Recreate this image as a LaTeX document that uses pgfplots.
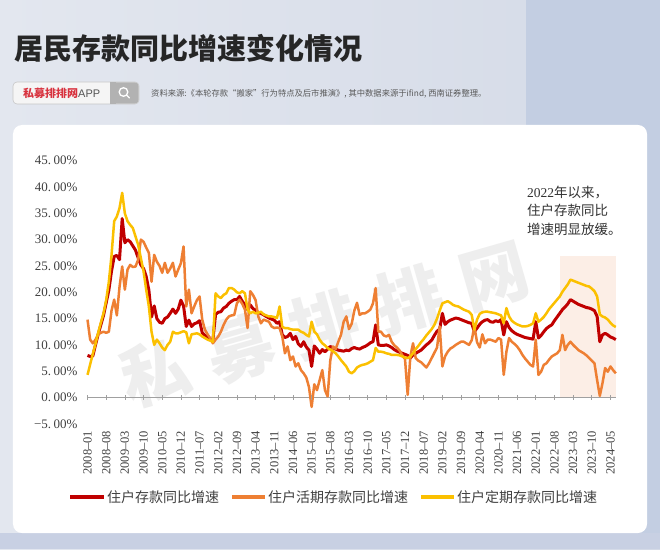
\documentclass[border=0pt]{standalone}
\usepackage{pgfplots}
\pgfplotsset{compat=1.18}
\usetikzlibrary{backgrounds}
\usepackage{fontspec}
\setmainfont{Liberation Serif}
\newfontfamily\cjk{Noto Sans CJK SC}
\newfontfamily\lsans{Liberation Sans}
\definecolor{cred}{HTML}{C00000}
\definecolor{corange}{HTML}{EE7F33}
\definecolor{cyellow}{HTML}{FBC000}
\definecolor{labgray}{HTML}{404040}
\definecolor{axgray}{HTML}{A0A0A0}
\definecolor{peachfill}{HTML}{FCEEE6}
\definecolor{bgA}{HTML}{E3E7EF}
\definecolor{bgB}{HTML}{D4DAE7}
\definecolor{bgband}{HTML}{C3CEE2}
\definecolor{bgbot}{HTML}{C8D0E3}
\definecolor{wm}{HTML}{EEEEEE}
\begin{document}
\begin{tikzpicture}
\begin{axis}[
  scale only axis,
  width=528.3pt, height=263.1pt,
  xmin=0, xmax=198, ymin=-5, ymax=45,
  axis line style={draw=none},
  tick style={draw=none},
  clip=false,
  xtick={0,7,...,196},
  xticklabels={2008--01,2008--08,2009--03,2009--10,2010--05,2010--12,2011--07,2012--02,2012--09,2013--04,2013--11,2014--06,2015--01,2015--08,2016--03,2016--10,2017--05,2017--12,2018--07,2019--02,2019--09,2020--04,2020--11,2021--06,2022--01,2022--08,2023--03,2023--10,2024--05},
  xticklabel style={rotate=90, anchor=east, font=\fontsize{12.5}{12.5}\selectfont, text=labgray},
  xticklabel shift=3.5pt,
  ytick={-5,0,5,10,15,20,25,30,35,40,45},
  yticklabels={−5.\hspace{2.5pt}00\%,0.\hspace{2.5pt}00\%,5.\hspace{2.5pt}00\%,10.\hspace{2.5pt}00\%,15.\hspace{2.5pt}00\%,20.\hspace{2.5pt}00\%,25.\hspace{2.5pt}00\%,30.\hspace{2.5pt}00\%,35.\hspace{2.5pt}00\%,40.\hspace{2.5pt}00\%,45.\hspace{2.5pt}00\%},
  yticklabel style={font=\fontsize{13}{13}\selectfont, text=labgray, xshift=-6.5pt},
]
\coordinate (O) at (axis cs:0,0);
\fill[peachfill] (axis cs:177,0) rectangle (axis cs:198.2,26.8);
\draw[axgray, line width=0.8pt] (axis cs:0,0) -- (axis cs:198,0);
\addplot[only marks, mark=|, mark size=2.5pt, color=axgray, mark options={line width=0.7pt}] coordinates {(0,0)(7,0)(14,0)(21,0)(28,0)(35,0)(42,0)(49,0)(56,0)(63,0)(70,0)(77,0)(84,0)(91,0)(98,0)(105,0)(112,0)(119,0)(126,0)(133,0)(140,0)(147,0)(154,0)(161,0)(168,0)(175,0)(182,0)(189,0)(196,0)};
% red: total household deposits
\addplot[cred, line width=3pt, line join=round, mark=none] coordinates {(0,8.0)(1,7.8)(2,7.9)(3,10.0)(4,12.0)(5,13.8)(6,15.6)(7,18.0)(8,20.4)(9,24.0)(10,26.8)(11,27.0)(12,26.2)(13,34.0)(14,29.4)(15,30.0)(16,29.6)(17,28.8)(18,28.0)(19,26.5)(20,25.2)(21,24.5)(22,23.0)(23,20.4)(24,15.3)(25,17.4)(26,15.0)(27,14.3)(28,14.1)(29,15.0)(30,15.3)(31,16.0)(32,16.8)(33,16.0)(34,16.8)(35,18.5)(36,17.4)(37,13.5)(38,14.7)(39,13.5)(40,14.0)(41,14.2)(42,14.6)(43,12.3)(44,11.8)(45,11.5)(46,11.0)(47,11.0)(48,15.8)(49,16.2)(50,16.3)(51,17.0)(52,17.3)(53,17.9)(54,18.3)(55,18.6)(56,18.6)(57,19.2)(58,18.3)(59,17.6)(60,16.7)(61,17.6)(62,16.9)(63,16.6)(64,16.1)(65,16.0)(66,15.7)(67,15.4)(68,15.1)(69,14.9)(70,14.7)(71,14.1)(72,14.4)(73,11.9)(74,11.4)(75,11.6)(76,12.2)(77,11.0)(78,11.6)(79,10.2)(80,9.7)(81,10.6)(82,9.6)(83,9.0)(84,5.9)(85,9.8)(86,9.2)(87,8.4)(88,9.1)(89,8.7)(90,9.2)(91,9.7)(92,9.4)(93,9.2)(94,9.0)(95,8.9)(96,8.8)(97,9.0)(98,8.9)(99,9.3)(100,9.5)(101,9.3)(102,9.2)(103,9.5)(104,9.7)(105,10.0)(106,10.4)(107,10.6)(108,13.8)(109,10.0)(110,9.9)(111,9.9)(112,10.0)(113,9.8)(114,9.5)(115,9.1)(116,8.8)(117,8.6)(118,8.4)(119,8.2)(120,8.0)(121,7.5)(122,8.1)(123,8.4)(124,8.7)(125,9.0)(126,9.5)(127,10.0)(128,10.4)(129,10.9)(130,11.8)(131,12.6)(132,13.0)(133,16.0)(134,13.9)(135,14.4)(136,14.7)(137,14.9)(138,15.1)(139,15.0)(140,14.8)(141,14.6)(142,14.4)(143,14.2)(144,14.1)(145,12.5)(146,13.2)(147,13.9)(148,14.4)(149,14.7)(150,14.8)(151,14.4)(152,14.3)(153,14.6)(154,14.4)(155,14.8)(156,11.9)(157,14.4)(158,13.3)(159,12.7)(160,12.3)(161,12.0)(162,11.8)(163,11.6)(164,11.4)(165,11.3)(166,11.2)(167,11.1)(168,14.4)(169,11.3)(170,11.8)(171,12.5)(172,13.1)(173,13.5)(174,13.8)(175,14.6)(176,15.3)(177,16.0)(178,16.7)(179,17.2)(180,17.8)(181,18.6)(182,18.3)(183,18.0)(184,17.7)(185,17.5)(186,17.3)(187,17.1)(188,17.0)(189,16.8)(190,16.5)(191,15.4)(192,10.6)(193,11.9)(194,12.2)(195,11.9)(196,11.5)(197,11.3)(198,11.0)};
% orange: demand deposits
\addplot[corange, line width=2.5pt, line join=round, mark=none] coordinates {(0,14.8)(1,11.0)(2,10.3)(3,11.0)(4,12.0)(5,12.3)(6,12.5)(7,12.3)(8,12.5)(9,16.5)(10,18.6)(11,15.6)(12,21.0)(13,24.9)(14,20.5)(15,24.3)(16,25.2)(17,24.8)(18,24.9)(19,26.2)(20,30.0)(21,29.6)(22,28.5)(23,27.5)(24,22.0)(25,27.1)(26,25.8)(27,25.0)(28,23.7)(29,25.6)(30,23.7)(31,24.5)(32,25.6)(33,23.0)(34,24.3)(35,25.5)(36,28.7)(37,17.3)(38,20.5)(39,16.0)(40,17.3)(41,18.5)(42,19.2)(43,14.8)(44,12.9)(45,12.0)(46,11.3)(47,10.3)(48,11.0)(49,11.6)(50,12.5)(51,13.8)(52,14.8)(53,15.4)(54,15.6)(55,15.7)(56,17.9)(57,18.6)(58,17.8)(59,16.7)(60,13.2)(61,20.2)(62,19.5)(63,18.5)(64,15.4)(65,14.1)(66,14.8)(67,14.6)(68,14.4)(69,13.5)(70,13.2)(71,13.3)(72,13.2)(73,11.6)(74,8.4)(75,9.7)(76,7.1)(77,7.8)(78,5.9)(79,6.5)(80,5.2)(81,4.6)(82,3.8)(83,2.0)(84,-1.8)(85,2.5)(86,1.4)(87,3.3)(88,5.2)(89,1.4)(90,0.2)(91,7.1)(92,9.7)(93,9.2)(94,10.6)(95,11.9)(96,14.4)(97,15.4)(98,13.0)(99,14.0)(100,16.5)(101,18.0)(102,15.7)(103,16.0)(104,16.0)(105,16.3)(106,16.7)(107,17.9)(108,20.8)(109,12.5)(110,12.5)(111,11.8)(112,11.6)(113,11.9)(114,10.6)(115,9.9)(116,9.5)(117,8.9)(118,8.0)(119,7.3)(120,0.5)(121,7.8)(122,10.3)(123,7.5)(124,7.0)(125,6.7)(126,6.2)(127,5.7)(128,6.5)(129,7.5)(130,8.5)(131,9.5)(132,13.5)(133,5.9)(134,7.8)(135,8.7)(136,9.3)(137,9.6)(138,10.0)(139,10.3)(140,10.6)(141,10.6)(142,10.3)(143,10.0)(144,10.9)(145,13.5)(146,10.5)(147,9.5)(148,12.0)(149,10.3)(150,11.0)(151,11.0)(152,10.8)(153,10.6)(154,11.3)(155,11.0)(156,4.3)(157,8.7)(158,11.3)(159,10.6)(160,10.2)(161,9.7)(162,9.0)(163,8.1)(164,7.4)(165,6.8)(166,6.2)(167,5.9)(168,11.0)(169,4.3)(170,4.9)(171,6.2)(172,6.5)(173,7.2)(174,7.8)(175,8.1)(176,8.4)(177,9.0)(178,11.9)(179,9.0)(180,10.0)(181,10.6)(182,10.0)(183,9.5)(184,9.0)(185,8.7)(186,8.4)(187,8.0)(188,7.5)(189,7.0)(190,6.5)(191,3.3)(192,0.3)(193,2.7)(194,5.6)(195,4.9)(196,5.9)(197,5.2)(198,4.6)};
% yellow: time deposits
\addplot[cyellow, line width=2.5pt, line join=round, mark=none] coordinates {(0,4.3)(1,6.3)(2,8.3)(3,10.2)(4,12.3)(5,14.2)(6,16.0)(7,18.5)(8,22.0)(9,27.0)(10,33.5)(11,34.4)(12,36.0)(13,38.9)(14,35.0)(15,33.5)(16,32.8)(17,32.2)(18,30.6)(19,29.0)(20,26.5)(21,24.0)(22,20.5)(23,17.3)(24,12.5)(25,10.0)(26,11.0)(27,10.3)(28,9.5)(29,9.0)(30,10.0)(31,10.6)(32,12.5)(33,12.2)(34,12.2)(35,12.4)(36,12.6)(37,12.4)(38,10.3)(39,12.0)(40,12.1)(41,12.2)(42,12.0)(43,11.6)(44,11.3)(45,11.0)(46,10.8)(47,10.6)(48,19.8)(49,19.2)(50,18.9)(51,19.5)(52,19.8)(53,20.8)(54,20.8)(55,20.5)(56,20.0)(57,19.8)(58,20.2)(59,19.8)(60,16.7)(61,16.0)(62,16.3)(63,16.0)(64,16.1)(65,16.3)(66,15.8)(67,15.6)(68,15.4)(69,15.4)(70,15.3)(71,15.1)(72,17.3)(73,13.4)(74,13.2)(75,13.2)(76,13.0)(77,12.9)(78,12.9)(79,12.9)(80,12.5)(81,12.3)(82,11.9)(83,11.6)(84,14.4)(85,12.5)(86,12.0)(87,11.0)(88,10.3)(89,9.9)(90,9.4)(91,9.1)(92,8.8)(93,8.4)(94,7.8)(95,7.1)(96,6.5)(97,5.9)(98,4.9)(99,4.6)(100,5.0)(101,5.7)(102,6.0)(103,6.2)(104,6.3)(105,6.5)(106,6.8)(107,7.1)(108,9.4)(109,8.7)(110,8.7)(111,8.6)(112,8.4)(113,8.3)(114,8.1)(115,8.1)(116,8.1)(117,8.0)(118,7.8)(119,7.6)(120,7.5)(121,7.8)(122,8.4)(123,9.2)(124,9.8)(125,10.5)(126,11.1)(127,11.8)(128,12.4)(129,13.0)(130,13.8)(131,15.0)(132,16.5)(133,17.9)(134,18.1)(135,18.3)(136,18.0)(137,17.6)(138,17.4)(139,17.3)(140,17.0)(141,16.7)(142,16.5)(143,16.3)(144,15.7)(145,12.9)(146,14.8)(147,15.9)(148,16.2)(149,16.3)(150,16.3)(151,16.2)(152,16.1)(153,16.0)(154,15.8)(155,15.6)(156,14.1)(157,17.0)(158,15.4)(159,14.6)(160,14.2)(161,13.9)(162,13.7)(163,13.5)(164,13.5)(165,13.6)(166,13.8)(167,14.1)(168,16.0)(169,14.4)(170,14.8)(171,15.3)(172,16.0)(173,16.8)(174,17.4)(175,18.0)(176,18.6)(177,19.2)(178,20.1)(179,20.8)(180,21.5)(181,22.4)(182,22.2)(183,22.0)(184,21.8)(185,21.6)(186,21.4)(187,21.2)(188,21.1)(189,20.7)(190,20.2)(191,19.2)(192,15.8)(193,15.4)(194,15.2)(195,14.8)(196,14.2)(197,13.7)(198,13.4)};
\end{axis}
\begin{scope}[shift={(O)}]
\begin{scope}[x=1pt,y=1pt,shift={(-87.5,-151.5)}]
\begin{pgfonlayer}{background}
% background
\shade[left color=bgA, right color=bgB] (0,0) rectangle (660,549);
\fill[bgband] (526,0) rectangle (660,549);
\fill[bgbot] (0,0) rectangle (660,16);
\fill[white, rounded corners=9pt] (13,16) rectangle (647,424);
% watermark
\node[rotate=16, text=wm, inner sep=0] at (324.5,225) {\cjk\bfseries\fontsize{68}{68}\selectfont 私\hspace{20pt}募\hspace{20pt}排\hspace{20pt}排\hspace{20pt}网};
\end{pgfonlayer}
% title
\node[anchor=west, inner sep=0, text=black!85] at (14,501) {\cjk\bfseries\fontsize{29}{29}\selectfont 居民存款同比增速变化情况};
% search box
\draw[draw=black!22, fill=white!96!black, rounded corners=4pt, line width=0.6pt] (13,445) rectangle (139,467);
\fill[black!30, rounded corners=4pt] (110,445.3) rectangle (138.7,466.7);
\fill[black!30] (110,445.3) rectangle (116,466.7);
\draw[white, line width=1.3pt] (123.5,457) circle (4.3);
\draw[white, line width=1.4pt, line cap=round] (126.7,453.8) -- (129.3,451.2);
\node[anchor=west, inner sep=0] at (23,456) {\cjk\bfseries\fontsize{11}{11}\selectfont\color[HTML]{D8333F}私募排排网\lsans\mdseries\color[HTML]{555555}APP};
\node[anchor=west, inner sep=0, text=black!65] at (151,455) {\cjk\fontsize{8.3}{9}\selectfont 资料来源:《本轮存款“搬家”行为特点及后市推演》, 其中数据来源于ifind, 西南证券整理。};
% annotation
\node[anchor=west, inner sep=0, text=black!80] at (527,356.7) {\fontsize{13.5}{13.5}\selectfont 2022\cjk 年以来，};
\node[anchor=west, inner sep=0, text=black!80] at (527,338.3) {\cjk\fontsize{13.5}{13.5}\selectfont 住户存款同比};
\node[anchor=west, inner sep=0, text=black!80] at (527,319.7) {\cjk\fontsize{13.5}{13.5}\selectfont 增速明显放缓。};
% legend
\draw[cred, line width=3.5pt] (70,52) -- (104,52);
\node[anchor=west, inner sep=0, text=labgray] at (107,52) {\cjk\fontsize{14}{14}\selectfont 住户存款同比增速};
\draw[corange, line width=3.5pt] (232,52) -- (265,52);
\node[anchor=west, inner sep=0, text=labgray] at (268,52) {\cjk\fontsize{14}{14}\selectfont 住户活期存款同比增速};
\draw[cyellow, line width=3.5pt] (421,52) -- (454,52);
\node[anchor=west, inner sep=0, text=labgray] at (457,52) {\cjk\fontsize{14}{14}\selectfont 住户定期存款同比增速};
\end{scope}
\end{scope}
\end{tikzpicture}
\end{document}
